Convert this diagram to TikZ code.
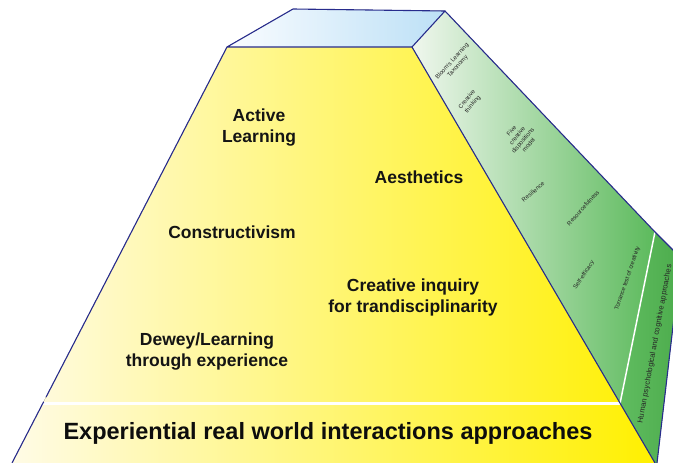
\documentclass[tikz,border=0pt]{standalone}
\usepackage{fontspec}
\usetikzlibrary{calc}
\setmainfont{Liberation Sans}
\definecolor{edgeblue}{RGB}{40,44,140}
\definecolor{topL}{RGB}{250,252,255}
\definecolor{topR}{RGB}{188,224,246}
\definecolor{yelL}{RGB}{255,251,230}
\definecolor{yelM}{RGB}{255,247,165}
\definecolor{yelR}{RGB}{255,240,0}
\definecolor{grnL}{RGB}{240,247,238}
\definecolor{grnR}{RGB}{92,186,92}
\definecolor{grnDL}{RGB}{96,188,96}
\definecolor{grnDR}{RGB}{76,172,76}
\begin{document}
\begin{tikzpicture}[x=1pt,y=-1pt,
  edge/.style={draw=edgeblue, line width=1.1pt, line join=round, line cap=round},
  big/.style={font=\bfseries\fontsize{17.5}{21}\selectfont, align=center, text=black!92, inner sep=0pt},
  huge/.style={font=\bfseries\fontsize{23.5}{28}\selectfont, align=center, text=black!95, inner sep=0pt},
  small/.style={font=\fontsize{6}{7.4}\selectfont, align=center, text=black!85, inner sep=0pt},
  gap/.style={draw=white, line width=2.2pt}
]
\useasboundingbox (0,0) rectangle (673,463);
\clip (0,0) rectangle (673,463);

% corner coordinates
\coordinate (tfl) at (227,47);
\coordinate (tfr) at (412,47);
\coordinate (tbr) at (445,11);
\coordinate (tbl) at (293,9);
\coordinate (sbm) at (655,232);
\coordinate (sbo) at (681,258);
\coordinate (fbr) at (655,463);
\coordinate (gbr) at (657,463);
\coordinate (fbl) at (12,463);
\coordinate (mr) at (620,403.5);
\coordinate (ml) at (30,403.5);

% top face
\fill[left color=topL, right color=topR] (tfl) -- (tbl) -- (tbr) -- (tfr) -- cycle;
% green side, upper
\fill[left color=grnL, right color=grnR] (tfr) -- (tbr) -- (sbm) -- (mr) -- cycle;
% green side, lower band
\fill[left color=grnDL, right color=grnDR] (mr) -- (sbm) -- (sbo) -- (gbr) -- (fbr) -- cycle;
% front face
\fill[left color=yelL, middle color=yelM, right color=yelR] (tfl) -- (tfr) -- (fbr) -- (fbl) -- cycle;

% separators
\draw[gap] (ml) -- (mr);
\draw[draw=white, line width=1.5pt] (mr) -- (sbm);

% outlines
\draw[edge] (tfl) -- (tbl) -- (tbr) -- (tfr) -- cycle;
\draw[edge] (tbr) -- (sbm) -- (sbo) -- (gbr);
\draw[edge] (tfr) -- (fbr);
\draw[edge] (tfl) -- ($(tfl)!0.8413!(fbl)$);
\draw[edge] ($(tfl)!0.8534!(fbl)$) -- (fbl);

% front labels
\node[big] (active) at (259,128) {Active\\Learning};
\node[big] (aesth) at (419,177) {Aesthetics};
\node[big] (constr) at (232,232) {Constructivism};
\node[big] (inquiry) at (413,297) {Creative inquiry\\for trandisciplinarity};
\node[big] (dewey) at (207,352) {Dewey/Learning\\through experience};
\node[huge] (exper) at (328,433) {Experiential real world interactions approaches};

% side labels
\node[small, rotate=48] (bloom) at (455,64) {Bloom's Learning\\Taxonomy};
\node[small, rotate=50] (cthink) at (470,102) {Creative\\thinking};
\node[small, rotate=50] (five) at (520,138) {Five\\creative\\dispositions\\model};
\node[small, rotate=41] (resil) at (533,192) {Resilience};
\node[small, rotate=48] (resour) at (583,208) {Resourcefulness};
\node[small, rotate=56] (selfeff) at (584,275) {Self-efficacy};
\node[small, rotate=71] (torr) at (627.5,278.5) {Torrance test of creativity};
\node[small, font=\fontsize{7.6}{8}\selectfont, rotate=79.6] (human) at (655,344) {Human psychological and cognitive approaches};
\end{tikzpicture}
\end{document}
